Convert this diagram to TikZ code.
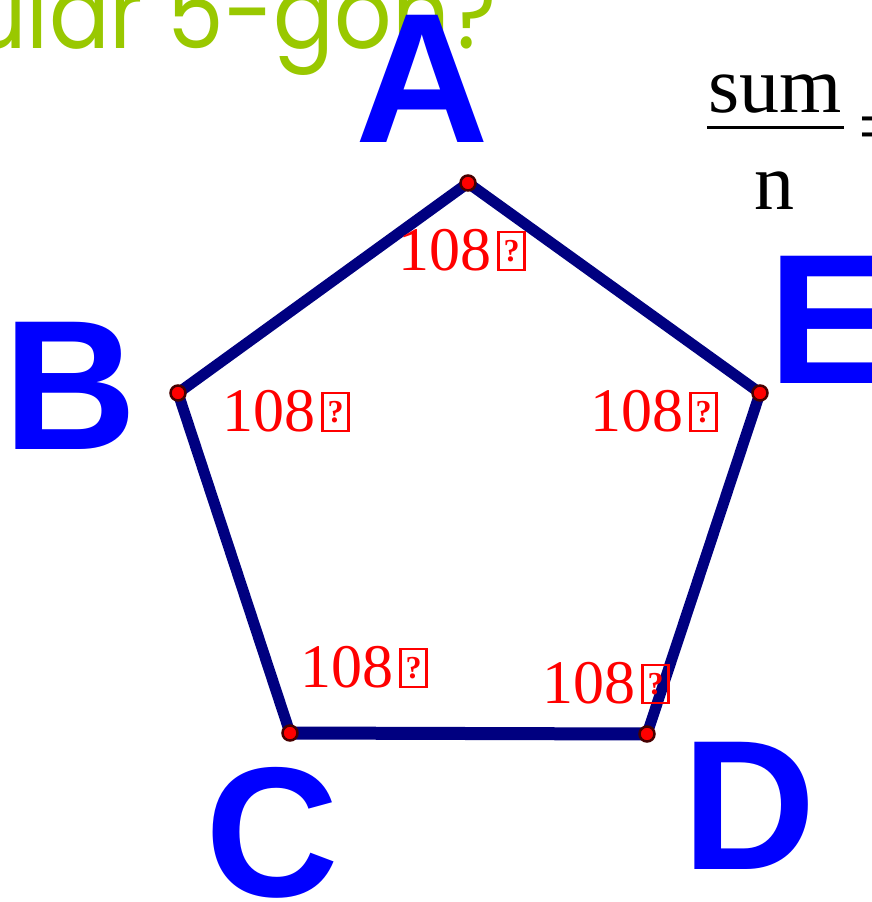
\documentclass[tikz,border=0pt]{standalone}
\usepackage{fontspec}
\setmainfont{Liberation Serif}
\newfontfamily\arialfont{Liberation Sans}
\newfontfamily\titlefont[FakeStretch=0.9]{Poppins}
\definecolor{titlegreen}{RGB}{153,200,0}
\definecolor{edgenavy}{RGB}{0,0,128}
\definecolor{ptblue}{RGB}{0,0,255}
\definecolor{dotring}{RGB}{70,0,0}
\tikzset{
  vlabel/.style={font=\arialfont\bfseries\fontsize{185}{185}\selectfont, text=ptblue, inner sep=0pt},
  anglabel/.style={font=\fontsize{62}{62}\selectfont, text=red, anchor=base west, inner sep=0pt},
  qmark/.style={draw=red, line width=2.5pt, minimum width=26pt, minimum height=38pt, inner sep=0pt, text=red, font=\bfseries\fontsize{32}{32}\selectfont, anchor=south west},
  edge/.style={draw=edgenavy, line width=11pt, line cap=round},
  vdot/.style={circle, fill=red, draw=dotring, line width=2.5pt, minimum size=15pt, inner sep=0pt},
  fractxt/.style={font=\fontsize{80}{80}\selectfont, text=black, anchor=base, inner sep=0pt}
}
\begin{document}
\begin{tikzpicture}[x=1pt,y=-1pt]
\useasboundingbox (0,0) rectangle (872,902);
\clip (0,0) rectangle (872,902);
% title
\node[anchor=base east, font=\titlefont\fontsize{100}{100}\selectfont, text=titlegreen, inner sep=0pt] (title) at (497,48) {ular 5-gon?};
% vertices
\coordinate (pA) at (468,183);
\coordinate (pB) at (178,393);
\coordinate (pC) at (290,733);
\coordinate (pD) at (647,734);
\coordinate (pE) at (760,393);
\draw[edge] (pA) -- (pB);
\draw[edge] (pB) -- (pC);
\draw[edge, line width=13pt] (pC) -- (pD);
\draw[edge] (pD) -- (pE);
\draw[edge] (pE) -- (pA);
\foreach \p in {pA,pB,pC,pD,pE} \node[vdot] at (\p) {};
% vertex letters
\node[vlabel, anchor=base] (lA) at (422,142) {A};
\node[vlabel, anchor=base] (lB) at (70,449) {B};
\node[vlabel, anchor=base west] (lE) at (768,383) {E};
\node[vlabel, anchor=base] (lC) at (272,896) {C};
\node[vlabel, anchor=base] (lD) at (749,869) {D};
% angle labels
\foreach \n/\x/\y in {aA/398/270, aB/222/431, aE/590/431, aC/300/687, aD/542/703}{
  \node[anglabel] (\n) at (\x,\y) {108};
  \node[qmark] (q\n) at ([xshift=6pt,yshift=-1pt]\n.base east) {?};
}
% fraction
\node[fractxt] (sum) at (775,112) {sum};
\node[fractxt] (n) at (774,209) {n};
\coordinate (barL) at (707,127);
\coordinate (barR) at (844,127);
\draw[line width=3pt] (barL) -- (barR);
\node[fractxt, anchor=base west] (eq) at (858,153) {=};
\end{tikzpicture}
\end{document}
